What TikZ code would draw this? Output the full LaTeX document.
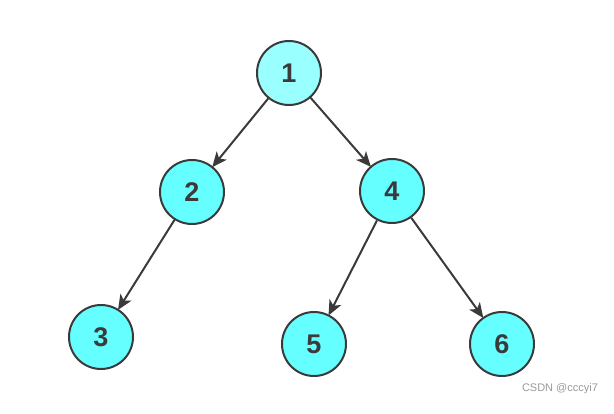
\documentclass[tikz,border=0pt]{standalone}
\usepackage{fontspec}
\setmainfont{Liberation Sans}
\usetikzlibrary{arrows.meta}
\definecolor{ink}{HTML}{3A3A3A}
\definecolor{cyanfill}{HTML}{66FFFF}
\definecolor{rootfill}{HTML}{99FFFF}

\begin{document}
\begin{tikzpicture}[x=1pt, y=-1pt,
    vtx/.style={circle, draw=ink, line width=2pt, fill=cyanfill, minimum size=64pt, inner sep=0pt,
                font=\fontsize{27}{30}\selectfont\bfseries, text=ink},
    arc/.style={-{Stealth[length=15pt,width=13pt,inset=4pt]}, line width=2pt, ink, shorten >=-1pt}]
  \useasboundingbox (0,0) rectangle (614,414);
  \node[vtx, fill=rootfill] (n1) at (289,73) {1};
  \node[vtx] (n2) at (192,192) {2};
  \node[vtx] (n4) at (392,191) {4};
  \node[vtx] (n3) at (101,337) {3};
  \node[vtx] (n5) at (314,344) {5};
  \node[vtx] (n6) at (502,344) {6};
  \foreach \a/\b in {n1/n2,n1/n4,n2/n3,n4/n5,n4/n6}{ \draw[arc] (\a) -- (\b); }
  % watermark
  \node[font=\fontsize{11}{12}\selectfont, text=black!40] (mark) at (560,389) {CSDN @cccyi7};
\end{tikzpicture}
\end{document}
